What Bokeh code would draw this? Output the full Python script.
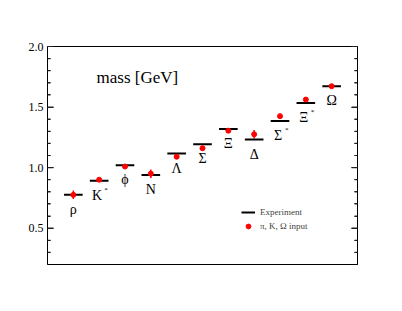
from bokeh.plotting import figure
from bokeh.models import ColumnDataSource, FixedTicker, LinearAxis, Label, Legend, LegendItem, PrintfTickFormatter
from bokeh.core.properties import value
from bokeh.embed import file_html
from bokeh.resources import INLINE

# ---- data ----
particles = ["ρ", "K", "ϕ", "N", "Λ", "Σ", "Ξ", "Δ", "Σ", "Ξ", "Ω"]
stars = ["", "*", "", "", "", "", "", "", "*", "*", ""]
experiment = [0.775, 0.892, 1.019, 0.939, 1.116, 1.193, 1.318, 1.232, 1.385, 1.533, 1.672]
lattice = [0.775, 0.900, 1.009, 0.950, 1.090, 1.160, 1.305, 1.275, 1.425, 1.562, 1.672]
lattice_err = [0.035, 0.015, 0.0, 0.035, 0.0, 0.0, 0.0, 0.035, 0.0, 0.0, 0.0]
y_major_ticks = [0.5, 1.0, 1.5, 2.0]
y_minor_ticks = [0.3, 0.4, 0.6, 0.7, 0.8, 0.9, 1.1, 1.2, 1.3, 1.4, 1.6, 1.7, 1.8, 1.9]

X_MIN, X_MAX = 0, 12
Y_MIN, Y_MAX = 0.2, 2.0
FRAME_W, FRAME_H = 310, 218
xs = list(range(1, len(particles) + 1))
src = ColumnDataSource(dict(
    x=xs,
    x0=[x - 0.36 for x in xs],
    x1=[x + 0.36 for x in xs],
    exp=experiment,
    lat=lattice,
    lo=[v - e for v, e in zip(lattice, lattice_err)],
    hi=[v + e for v, e in zip(lattice, lattice_err)],
    name=particles,
    star=stars,
    xoff=[-2 if s else 0 for s in stars],
))

SERIF = "Liberation Serif"

p = figure(frame_width=FRAME_W, frame_height=FRAME_H, x_range=(X_MIN, X_MAX), y_range=(Y_MIN, Y_MAX),
           output_backend="svg", toolbar_location=None, tools="",
           min_border_left=47, min_border_right=37, min_border_top=46, min_border_bottom=39,
           x_axis_location=None, y_axis_location="left")
p.background_fill_color = "white"
p.border_fill_color = "white"
p.xgrid.visible = False
p.ygrid.visible = False
p.outline_line_color = "black"
p.outline_line_width = 1

ticker = FixedTicker(ticks=y_major_ticks, minor_ticks=y_minor_ticks)
yax = p.yaxis[0]
yax.ticker = ticker
yax.formatter = PrintfTickFormatter(format="%.1f")

rax = LinearAxis(ticker=ticker)
p.add_layout(rax, "right")
for ax in (yax, rax):
    ax.axis_line_color = "black"
    ax.major_tick_in = 6
    ax.major_tick_out = 0
    ax.minor_tick_in = 3
    ax.minor_tick_out = 0
    ax.major_tick_line_color = "#222222"
    ax.minor_tick_line_color = "#222222"
yax.major_label_text_font = SERIF
yax.major_label_text_font_size = "12px"
yax.major_label_text_color = "black"
yax.major_label_standoff = 4
rax.major_label_text_color = None
rax.major_label_text_font_size = "1px"

# inward tick marks on both frame edges, lengths converted from pixels to data units
px = (X_MAX - X_MIN) / FRAME_W
for edge, sgn in ((X_MIN, 1), (X_MAX, -1)):
    p.segment(x0=[edge] * len(y_major_ticks), y0=y_major_ticks,
              x1=[edge + sgn * 6 * px] * len(y_major_ticks), y1=y_major_ticks,
              line_color="#222222", line_width=1.2)
    p.segment(x0=[edge] * len(y_minor_ticks), y0=y_minor_ticks,
              x1=[edge + sgn * 3 * px] * len(y_minor_ticks), y1=y_minor_ticks,
              line_color="#222222", line_width=1.2)

err = p.segment(x0="x", y0="lo", x1="x", y1="hi", source=src, line_color="red", line_width=1.5)
exp_r = p.segment(x0="x0", y0="exp", x1="x1", y1="exp", source=src, line_color="black", line_width=2)
lat_r = p.scatter(x="x", y="lat", source=src, size=5, fill_color="red", line_color="red")

p.text(x="x", y="exp", text="name", source=src, x_offset="xoff", y_offset=7,
       text_font=value(SERIF), text_font_size="14px", text_align="center",
       text_baseline="top", text_color="black")
p.text(x="x", y="exp", text="star", source=src, x_offset=5, y_offset=5,
       text_font=value(SERIF), text_font_size="7px", text_align="left",
       text_baseline="top", text_color="black")

p.add_layout(Label(x=1.9, y=1.74, text="mass [GeV]", text_font=SERIF, text_font_size="17px",
                   text_baseline="middle", text_align="left", text_color="black"))

legend = Legend(items=[LegendItem(label="Experiment", renderers=[exp_r]),
                       LegendItem(label="π, K, Ω input", renderers=[lat_r])],
                location=(194, 32), glyph_width=14, glyph_height=12, spacing=2,
                padding=0, margin=0, label_standoff=5, label_height=12,
                label_text_font=SERIF, label_text_font_size="9px",
                border_line_color=None, background_fill_alpha=0)
p.add_layout(legend, "center")

open("out.html", "w").write(file_html(p, INLINE))
